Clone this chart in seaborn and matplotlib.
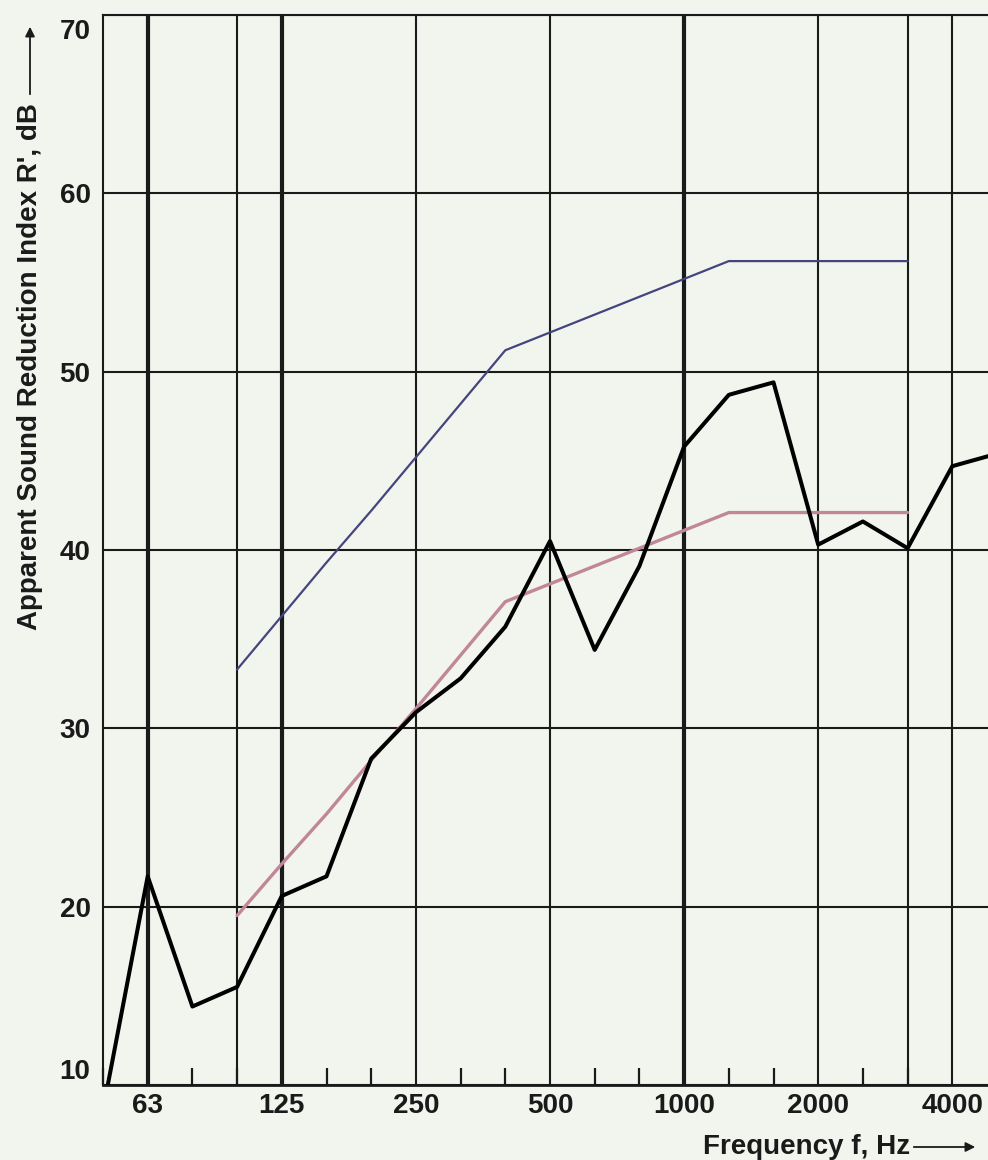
import matplotlib
matplotlib.use("Agg")
import matplotlib.pyplot as plt
import matplotlib.transforms as mtransforms
from matplotlib.patches import FancyArrowPatch
import numpy as np
import seaborn as sns

# Third-octave band centre frequencies (Hz)
bands = ["50", "63", "80", "100", "125", "160", "200", "250", "315", "400",
         "500", "630", "800", "1000", "1250", "1600", "2000", "2500", "3150",
         "4000", "5000"]

# Measured apparent sound reduction index R' (dB), 50 Hz .. 5000 Hz
measured = [8.6, 21.7, 14.4, 15.5, 20.6, 21.7, 28.3, 30.9, 32.8, 35.7,
            40.5, 34.4, 39.1, 45.8, 48.7, 49.4, 40.3, 41.6, 40.1, 44.7, 45.4]

# Reference curve and shifted reference curve, 100 Hz .. 3150 Hz
ref_bands = ["100", "125", "160", "200", "250", "315", "400", "500", "630",
             "800", "1000", "1250", "1600", "2000", "2500", "3150"]
reference = [33.3, 36.3, 39.3, 42.2, 45.2, 48.2, 51.2, 52.2, 53.2, 54.2,
             55.2, 56.2, 56.2, 56.2, 56.2, 56.2]
shifted = [19.5, 22.4, 25.2, 28.2, 31.1, 34.1, 37.1, 38.1, 39.1, 40.1,
           41.1, 42.1, 42.1, 42.1, 42.1, 42.1]

# Labelled bands and the bands carrying full-height grid lines
label_bands = ["63", "125", "250", "500", "1000", "2000", "4000"]
heavy_lines = ["63", "125", "1000"]
light_lines = ["100", "250", "500", "2000", "3150", "4000"]
y_ticks = [10, 20, 30, 40, 50, 60, 70]

BG = "#f2f5ee"
INK = "#1a1a1a"

sns.set_theme(style="white")
plt.rcParams["font.family"] = ["Liberation Sans", "DejaVu Sans"]
plt.rcParams["font.weight"] = "bold"

W, H = 988, 1160
fig = plt.figure(figsize=(W / 100, H / 100), dpi=100, facecolor=BG)
ax = fig.add_axes([103 / W, 75 / H, 885 / W, 1070 / H], facecolor=BG)

pos = {b: i for i, b in enumerate(bands)}
x_meas = np.array([pos[b] for b in bands])
x_ref = np.array([pos[b] for b in ref_bands])
x_max = (W - 103) / 44.7

# grid
for b in heavy_lines:
    ax.axvline(pos[b], color=INK, lw=3.0, zorder=1)
for b in light_lines:
    ax.axvline(pos[b], color=INK, lw=1.5, zorder=1)
for v in y_ticks:
    ax.axhline(v, color=INK, lw=1.5, zorder=1)

# curves
sns.lineplot(x=x_ref, y=shifted, color="#bf8797", lw=2.4, sort=False,
             errorbar=None, ax=ax, zorder=3)
sns.lineplot(x=x_ref, y=reference, color="#45457e", lw=1.6, sort=False,
             errorbar=None, ax=ax, zorder=3)
sns.lineplot(x=x_meas, y=measured, color="black", lw=2.9, sort=False,
             errorbar=None, ax=ax, zorder=5)

ax.set_xlim(0, x_max)
ax.set_ylim(10, 70)

ax.set_xticks([pos[b] for b in label_bands], label_bands)
minor = [pos[b] for b in bands if b not in label_bands and pos[b] < x_max - 0.5]
ax.set_xticks(minor, minor=True)
ax.tick_params(axis="x", which="major", length=0, pad=6, labelsize=20,
               colors=INK)
ax.tick_params(axis="x", which="minor", direction="in", length=12,
               width=1.6, colors=INK, bottom=True)
ax.set_yticks(y_ticks, [str(v) for v in y_ticks])
ax.tick_params(axis="y", length=0, pad=9, labelsize=20, colors=INK)

# keep the end labels inside the frame
for lab in ax.get_yticklabels():
    if lab.get_text() == "10":
        lab.set_transform(lab.get_transform() +
                          mtransforms.ScaledTranslation(0, 16 / 100, fig.dpi_scale_trans))
    elif lab.get_text() == "70":
        lab.set_transform(lab.get_transform() +
                          mtransforms.ScaledTranslation(0, -14 / 100, fig.dpi_scale_trans))

for side in ("left", "top"):
    ax.spines[side].set_color(INK)
    ax.spines[side].set_linewidth(1.5)
ax.spines["bottom"].set_color(INK)
ax.spines["bottom"].set_linewidth(2.0)
ax.spines["right"].set_visible(False)

# axis titles with arrows
fig.text(30 / W, 1 - 367 / H, "Apparent Sound Reduction Index R', dB",
         rotation=90, ha="center", va="center", fontsize=20, color=INK)
fig.text(910 / W, 1 - 1147 / H, "Frequency f, Hz", ha="right", va="center",
         fontsize=20, color=INK)
fig.add_artist(FancyArrowPatch((30, H - 97), (30, H - 24), transform=None,
                               arrowstyle="-|>", mutation_scale=14, lw=1.3,
                               color=INK))
fig.add_artist(FancyArrowPatch((911, 13), (978, 13), transform=None,
                               arrowstyle="-|>", mutation_scale=14, lw=1.3,
                               color=INK))

fig.savefig("out.png", dpi=100, facecolor=BG)
